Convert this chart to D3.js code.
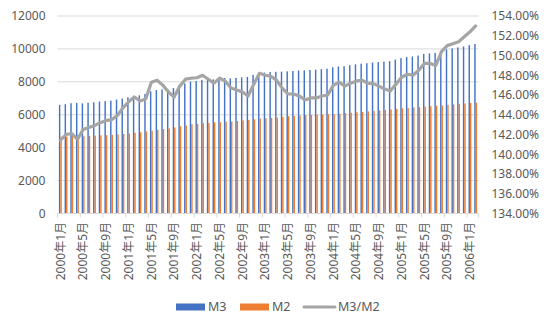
<!DOCTYPE html>
<html>
<head>
<meta charset="utf-8">
<script src="https://cdn.jsdelivr.net/npm/d3@7"></script>
<style>
  body { margin: 0; background: #fff; }
  svg { display: block; }
  text { font-family: "Noto Sans", "Noto Sans CJK SC", sans-serif; fill: #595959; }
</style>
</head>
<body>
<svg id="chart" width="550" height="330"></svg>
<script>
// Monthly categories, January 2000 through February 2006
const months = [];
for (let y = 2000; y <= 2006; y++) {
  for (let m = 1; m <= 12; m++) {
    if (y === 2006 && m > 2) break;
    months.push(`${y}年${m}月`);
  }
}

// M3 money supply
const m3 = [
  6600, 6640, 6700, 6720, 6690, 6730, 6760, 6800, 6830, 6860, 6920, 6990,
  7060, 7150, 7180, 7260, 7420, 7500, 7540, 7560, 7620, 7780, 7900, 8010,
  8050, 8120, 8110, 8150, 8200, 8230, 8210, 8240, 8270, 8300, 8420, 8540,
  8560, 8590, 8610, 8620, 8640, 8660, 8690, 8700, 8720, 8740, 8770, 8800,
  8880, 8930, 8950, 9010, 9060, 9100, 9130, 9170, 9200, 9230, 9260, 9350,
  9440, 9500, 9540, 9600, 9690, 9730, 9760, 9880, 9970, 10030, 10090, 10150,
  10230, 10300
];

// M2 money supply
const m2 = [
  4668, 4676, 4715, 4749, 4695, 4716, 4731, 4749, 4763, 4780, 4809, 4831,
  4859, 4904, 4938, 4986, 5037, 5085, 5129, 5167, 5226, 5296, 5352, 5423,
  5448, 5486, 5495, 5537, 5552, 5583, 5596, 5625, 5653, 5689, 5724, 5762,
  5784, 5808, 5837, 5876, 5914, 5927, 5956, 5979, 5985, 5999, 6011, 6027,
  6041, 6062, 6093, 6121, 6147, 6169, 6202, 6232, 6263, 6296, 6325, 6356,
  6387, 6415, 6446, 6465, 6495, 6522, 6550, 6569, 6603, 6634, 6664, 6682,
  6713, 6732
];

// M3/M2 ratio, percent
const ratio = [
  141.4, 142.0, 142.1, 141.5, 142.5, 142.7, 142.9, 143.2, 143.4, 143.5, 143.9, 144.7,
  145.3, 145.8, 145.4, 145.6, 147.3, 147.5, 147.0, 146.3, 145.8, 146.9, 147.6, 147.7,
  147.75, 148.0, 147.6, 147.2, 147.7, 147.4, 146.7, 146.5, 146.3, 145.9, 147.1, 148.2,
  148.0, 147.9, 147.5, 146.7, 146.1, 146.1, 145.9, 145.5, 145.7, 145.7, 145.9, 146.0,
  147.0, 147.3, 146.9, 147.2, 147.4, 147.5, 147.2, 147.15, 146.9, 146.6, 146.4, 147.1,
  147.8, 148.1, 148.0, 148.5, 149.2, 149.2, 149.0, 150.4, 151.0, 151.2, 151.4, 151.9,
  152.4, 153.0
];

const leftTicks = [0, 2000, 4000, 6000, 8000, 10000, 12000];
const rightTicks = [134, 136, 138, 140, 142, 144, 146, 148, 150, 152, 154];
const xTickLabels = months.filter((d, i) => i % 4 === 0);
const seriesNames = ["M3", "M2"];
const legendNames = ["M3", "M2", "M3/M2"];

const colors = { M3: "#4472C4", M2: "#ED7D31", "M3/M2": "#A5A5A5" };

const plot = { left: 57.5, right: 478.5, top: 16, bottom: 213.5 };

const svg = d3.select("#chart");

const x = d3.scaleBand().domain(months).range([plot.left, plot.right]).padding(0);
const xInner = d3.scaleBand().domain(seriesNames).range([0, x.bandwidth()])
  .paddingInner(0).paddingOuter(1.0);
const yL = d3.scaleLinear().domain([0, 12000]).range([plot.bottom, plot.top]);
const yR = d3.scaleLinear().domain([134, 154]).range([plot.bottom, plot.top]);

// Horizontal gridlines
svg.append("g")
  .selectAll("line")
  .data(leftTicks)
  .join("line")
  .attr("x1", plot.left).attr("x2", plot.right)
  .attr("y1", d => yL(d)).attr("y2", d => yL(d))
  .attr("stroke", "#D9D9D9").attr("stroke-width", 1);

// Left axis labels
const gL = svg.append("g")
  .attr("transform", `translate(${plot.left},0)`)
  .call(d3.axisLeft(yL).tickValues(leftTicks).tickSize(0).tickPadding(12).tickFormat(d3.format("d")));
gL.select(".domain").remove();
gL.selectAll("text").style("font-size", "12px").attr("fill", "#595959");

// Right axis labels
const gR = svg.append("g")
  .attr("transform", `translate(${plot.right},0)`)
  .call(d3.axisRight(yR).tickValues(rightTicks).tickSize(0).tickPadding(13).tickFormat(d => d.toFixed(2) + "%"));
gR.select(".domain").remove();
gR.selectAll("text").style("font-size", "12px").attr("fill", "#595959");

// Bars
const bars = svg.append("g");
months.forEach((mo, i) => {
  const vals = { M3: m3[i], M2: m2[i] };
  seriesNames.forEach(s => {
    bars.append("rect")
      .attr("x", x(mo) + xInner(s))
      .attr("y", yL(vals[s]))
      .attr("width", xInner.bandwidth())
      .attr("height", yL(0) - yL(vals[s]))
      .attr("fill", colors[s]);
  });
});

// Category axis baseline and tick marks
svg.append("line")
  .attr("x1", plot.left).attr("x2", plot.right)
  .attr("y1", plot.bottom).attr("y2", plot.bottom)
  .attr("stroke", "#D9D9D9");
svg.append("g")
  .selectAll("line")
  .data(xTickLabels.concat([null]))
  .join("line")
  .attr("x1", d => d === null ? plot.right : x(d))
  .attr("x2", d => d === null ? plot.right : x(d))
  .attr("y1", plot.bottom).attr("y2", plot.bottom + 4)
  .attr("stroke", "#D9D9D9");

// Category labels, rotated
const gX = svg.append("g")
  .attr("transform", `translate(0,${plot.bottom})`)
  .call(d3.axisBottom(x).tickValues(xTickLabels).tickSize(0));
gX.select(".domain").remove();
gX.selectAll("text")
  .style("font-size", "12px")
  .attr("fill", "#595959")
  .attr("transform", "rotate(-90)")
  .attr("text-anchor", "end")
  .attr("x", -8.5)
  .attr("y", 0)
  .attr("dy", "0.35em");

// Ratio line on the right axis
const line = d3.line()
  .x((d, i) => x(months[i]) + x.bandwidth() / 2)
  .y(d => yR(d));
svg.append("path")
  .datum(ratio)
  .attr("d", line)
  .attr("fill", "none")
  .attr("stroke", colors["M3/M2"])
  .attr("stroke-width", 3.2)
  .attr("stroke-linejoin", "round")
  .attr("stroke-linecap", "round");

// Legend
const legend = svg.append("g").attr("transform", "translate(0,307)");
const legendX = { M3: 176, M2: 240, "M3/M2": 304 };
legendNames.forEach(name => {
  const g = legend.append("g").attr("transform", `translate(${legendX[name]},0)`);
  if (name === "M3/M2") {
    g.append("line").attr("x1", 0).attr("x2", 31).attr("y1", 0).attr("y2", 0)
      .attr("stroke", colors[name]).attr("stroke-width", 3).attr("stroke-linecap", "round");
    g.append("text").attr("x", 34).attr("y", 0).attr("dy", "0.35em")
      .style("font-size", "12.5px").text(name);
  } else {
    g.append("rect").attr("x", 0).attr("y", -3.5).attr("width", 29).attr("height", 7)
      .attr("fill", colors[name]);
    g.append("text").attr("x", 32).attr("y", 0).attr("dy", "0.35em")
      .style("font-size", "12.5px").text(name);
  }
});
</script>
</body>
</html>
